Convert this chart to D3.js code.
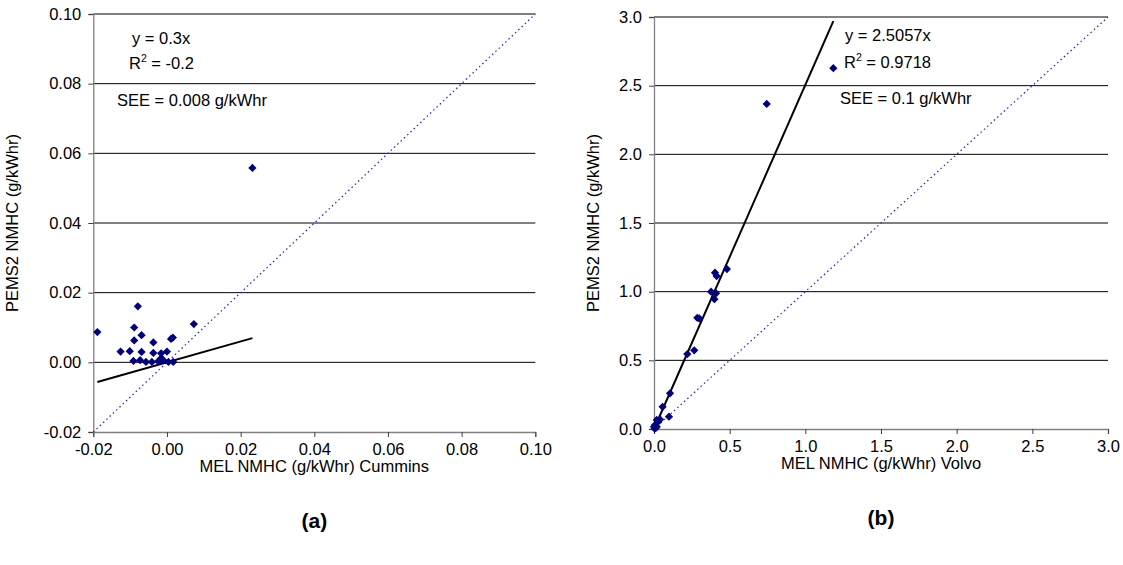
<!DOCTYPE html>
<html>
<head>
<meta charset="utf-8">
<script src="https://cdn.jsdelivr.net/npm/d3@7"></script>
<style>
  html, body { margin: 0; padding: 0; background: #fff; }
  svg text { font-family: "Liberation Sans", Arial, sans-serif; fill: #000; }
</style>
</head>
<body>
<svg id="chart" width="1123" height="565"></svg>
<script>
// Panel (a): Cummins — MEL vs PEMS2 NMHC (g/kWhr)
const cumminsMel = [-0.0189, -0.0079, 0.0073, -0.0089, -0.0069, -0.0089, -0.0037, 0.0011, 0.0016,
  -0.0126, -0.0101, -0.0069, -0.0037, -0.0016, 0.0000, -0.0091, -0.0073, -0.0057, -0.0041,
  -0.0024, -0.0010, 0.0004, 0.0017, -0.0016, 0.0232];
const cumminsPems = [0.0087, 0.0161, 0.0110, 0.0100, 0.0078, 0.0063, 0.0057, 0.0067, 0.0071,
  0.0031, 0.0032, 0.0030, 0.0027, 0.0026, 0.0031, 0.0004, 0.0006, 0.0001, 0.0001,
  0.0003, 0.0006, 0.0001, 0.0001, 0.0012, 0.0558];
const cumminsSlope = 0.3;
const cumminsTicks = [-0.02, 0.00, 0.02, 0.04, 0.06, 0.08, 0.10];

// Panel (b): Volvo — MEL vs PEMS2 NMHC (g/kWhr)
const volvoMel = [0.745, 1.185, 0.403, 0.414, 0.482, 0.377, 0.410, 0.399, 0.286, 0.299,
  0.220, 0.266, 0.106, 0.057, 0.099, 0.007, 0.018, 0.028, 0.000, 0.018, 0.040, 0.005, 0.012];
const volvoPems = [2.367, 2.627, 1.138, 1.114, 1.165, 1.000, 0.988, 0.945, 0.810, 0.806,
  0.546, 0.573, 0.260, 0.162, 0.090, 0.030, 0.017, 0.053, 0.017, 0.066, 0.070, 0.002, 0.008];
const volvoSlope = 2.5057;
const volvoTicks = [0.0, 0.5, 1.0, 1.5, 2.0, 2.5, 3.0];

const FS = 16.5;
const svg = d3.select("#chart");

function panel(opts) {
  const g = svg.append("g");
  const x = d3.scaleLinear().domain(opts.domain).range([opts.left, opts.right]);
  const y = d3.scaleLinear().domain(opts.domain).range([opts.bottom, opts.top]);
  const base = d3.format(opts.fmt);
  const fmt = v => base(v).replace("\u2212", "-");

  // horizontal gridlines
  g.selectAll("line.grid").data(opts.ticks.slice(1)).join("line")
    .attr("class", "grid")
    .attr("x1", opts.left).attr("x2", opts.right)
    .attr("y1", d => y(d)).attr("y2", d => y(d))
    .attr("stroke", "#000").attr("stroke-width", 1);

  // axes
  const xAxis = g.append("g").attr("transform", `translate(0,${opts.bottom})`)
    .call(d3.axisBottom(x).tickValues(opts.ticks).tickFormat(fmt).tickSize(5).tickPadding(6));
  const yAxis = g.append("g").attr("transform", `translate(${opts.left},0)`)
    .call(d3.axisLeft(y).tickValues(opts.ticks).tickFormat(fmt).tickSize(5).tickPadding(7));
  [xAxis, yAxis].forEach(a => {
    a.select(".domain").attr("stroke", "#808080").attr("stroke-width", 1.3);
    a.selectAll(".tick line").attr("stroke", "#404040");
    a.selectAll(".tick text").attr("font-size", FS).attr("font-family", "Liberation Sans, Arial, sans-serif").attr("fill", "#000");
  });

  // 1:1 reference line
  g.append("line")
    .attr("x1", x(opts.domain[0])).attr("y1", y(opts.domain[0]))
    .attr("x2", x(opts.domain[1])).attr("y2", y(opts.domain[1]))
    .attr("stroke", "#1a1aff").attr("stroke-width", 1.2)
    .attr("stroke-dasharray", "1.5,3");

  // regression line across the data range
  const ext = d3.extent(opts.xs);
  g.append("line")
    .attr("x1", x(ext[0])).attr("y1", y(ext[0] * opts.slope))
    .attr("x2", x(ext[1])).attr("y2", y(ext[1] * opts.slope))
    .attr("stroke", "#000").attr("stroke-width", 2);

  // points as diamonds
  const diamond = d3.symbol().type(d3.symbolSquare).size(34);
  g.selectAll("path.pt").data(opts.xs.map((v, i) => [v, opts.ys[i]])).join("path")
    .attr("class", "pt")
    .attr("d", diamond)
    .attr("transform", d => `translate(${x(d[0])},${y(d[1])}) rotate(45)`)
    .attr("fill", "#000080");

  // annotations
  const ann = g.append("g").attr("font-size", FS);
  ann.append("text").attr("x", opts.annX).attr("y", opts.annY[0]).text(opts.eq);
  const r = ann.append("text").attr("x", opts.annX2).attr("y", opts.annY[1]);
  r.append("tspan").text("R");
  r.append("tspan").attr("font-size", 10.5).attr("dy", -7).text("2");
  r.append("tspan").attr("dy", 7).text(" = " + opts.r2);
  ann.append("text").attr("x", opts.annX3).attr("y", opts.annY[2]).text(opts.see);

  // axis titles
  g.append("text").attr("x", (opts.left + opts.right) / 2).attr("y", opts.bottom + 40)
    .attr("text-anchor", "middle").attr("font-size", FS).text(opts.xTitle);
  g.append("text")
    .attr("transform", `translate(${opts.yTitleX},${(opts.top + opts.bottom) / 2}) rotate(-90)`)
    .attr("text-anchor", "middle").attr("font-size", FS).text("PEMS2 NMHC (g/kWhr)");

  // panel letter
  g.append("text").attr("x", (opts.left + opts.right) / 2).attr("y", opts.bottom + 96)
    .attr("text-anchor", "middle").attr("font-size", 21).attr("font-weight", "bold").text(opts.letter);
}

panel({
  domain: [-0.02, 0.10], ticks: cumminsTicks, fmt: ".2f",
  left: 93.3, right: 535.3, top: 14, bottom: 432,
  xs: cumminsMel, ys: cumminsPems, slope: cumminsSlope,
  eq: "y = 0.3x", r2: "-0.2", see: "SEE = 0.008 g/kWhr",
  annX: 132, annX2: 129, annX3: 117, annY: [44, 69, 106],
  xTitle: "MEL NMHC (g/kWhr) Cummins", yTitleX: 18, letter: "(a)"
});

panel({
  domain: [0, 3], ticks: volvoTicks, fmt: ".1f",
  left: 654, right: 1108, top: 17, bottom: 429,
  xs: volvoMel, ys: volvoPems, slope: volvoSlope,
  eq: "y = 2.5057x", r2: "0.9718", see: "SEE = 0.1 g/kWhr",
  annX: 845, annX2: 844, annX3: 840, annY: [41, 68, 104],
  xTitle: "MEL NMHC (g/kWhr) Volvo", yTitleX: 599, letter: "(b)"
});
</script>
</body>
</html>
